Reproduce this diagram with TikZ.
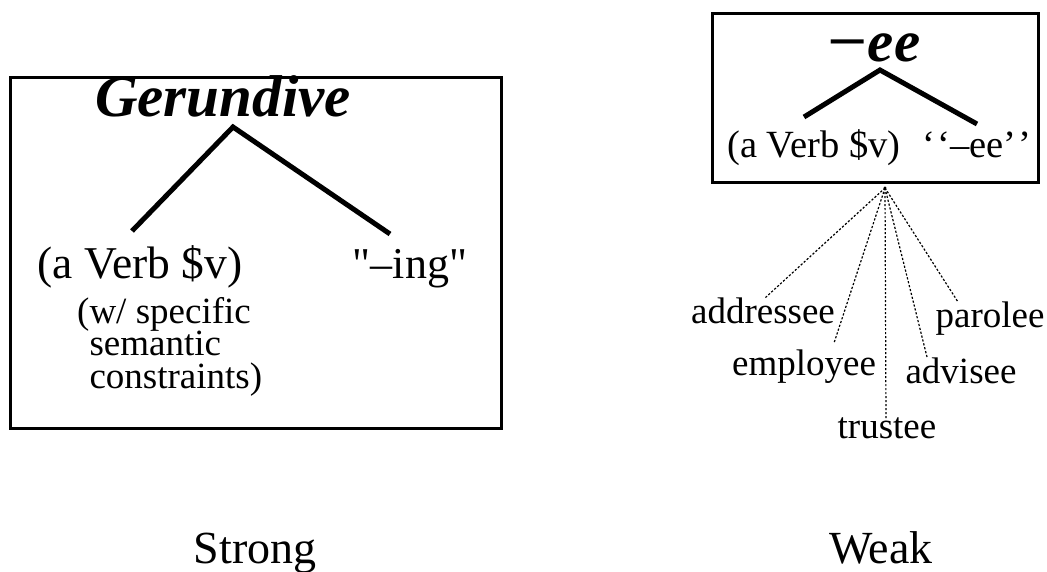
\documentclass[tikz,border=0pt]{standalone}
\usepackage{fontspec}
\setmainfont{Liberation Serif}[Ligatures=TeXOff]
\begin{document}
\begin{tikzpicture}[x=1pt,y=-1pt,
  lbl/.style={inner sep=0pt,anchor=base},
  lbll/.style={inner sep=0pt,anchor=base west},
  frame/.style={draw,line width=3pt},
  branch/.style={line width=5pt},
  leafline/.style={line width=1.2pt,dash pattern=on 2.2pt off 1.8pt},
  bigtxt/.style={font=\fontsize{44}{44}\selectfont},
  midtxt/.style={font=\fontsize{37}{37}\selectfont},
  captxt/.style={font=\fontsize{46}{46}\selectfont}]
\useasboundingbox (0,0) rectangle (1047,571);
% left box
\draw[frame] (10,77) rectangle (501,428);
\node[lbl,font=\fontsize{59}{59}\selectfont\bfseries\itshape] (ger) at (223,116) {Gerundive};
\node[lbl,font=\fontsize{45.5}{45.5}\selectfont] (verbL) at (140,278) {(a Verb \$v)};
\node[lbl,bigtxt] (ing) at (410,278) {"–ing"};
\node[inner sep=0pt,anchor=north west,align=left,font=\fontsize{37}{32.5}\selectfont] (sem) at (77,297)
  {(w/ specific\\\hphantom{(}semantic\\\hphantom{(}constraints)};
\coordinate (gA) at (233,127);
\coordinate (gL) at (132,231);
\coordinate (gR) at (390,234);
\draw[branch] (gL) -- (gA) -- (gR);
% right box
\draw[frame] (712,13) rectangle (1038,182);
\node[lbl,font=\fontsize{59}{59}\selectfont\bfseries] (ee) at (874,61) {\scalebox{1.2}[1]{−}\textit{ee}};
\node[lbl,font=\fontsize{38.5}{38.5}\selectfont] (verbR) at (814,157) {(a Verb \$v)};
\node[lbl,font=\fontsize{38.5}{38.5}\selectfont] (eeq) at (977,157) {‘\kern2pt‘–ee’\kern2pt’};
\coordinate (eA) at (880,70);
\coordinate (eL) at (804,117);
\coordinate (eR) at (977,124);
\draw[branch] (eL) -- (eA) -- (eR);
% leaves
\coordinate (hub) at (885,188);
\fill (hub) circle (1.6pt);
\node[lbl,midtxt] (addr) at (763,323) {addressee};
\node[lbl,midtxt] (empl) at (804,375) {employee};
\node[lbl,midtxt] (trus) at (887,438) {trustee};
\node[lbl,midtxt] (advi) at (961,383) {advisee};
\node[lbl,midtxt] (paro) at (990,327) {parolee};
\coordinate (addrE) at (765,298);
\coordinate (emplE) at (834,343);
\coordinate (trusE) at (886,420);
\coordinate (adviE) at (927,357);
\coordinate (paroE) at (958,302);
\foreach \e in {addrE,emplE,trusE,adviE,paroE} \draw[leafline] (hub) -- (\e);
% captions
\node[lbl,captxt] (strong) at (255,563) {Strong};
\node[lbl,captxt] (weak) at (881,563) {Weak};
\end{tikzpicture}
\end{document}
